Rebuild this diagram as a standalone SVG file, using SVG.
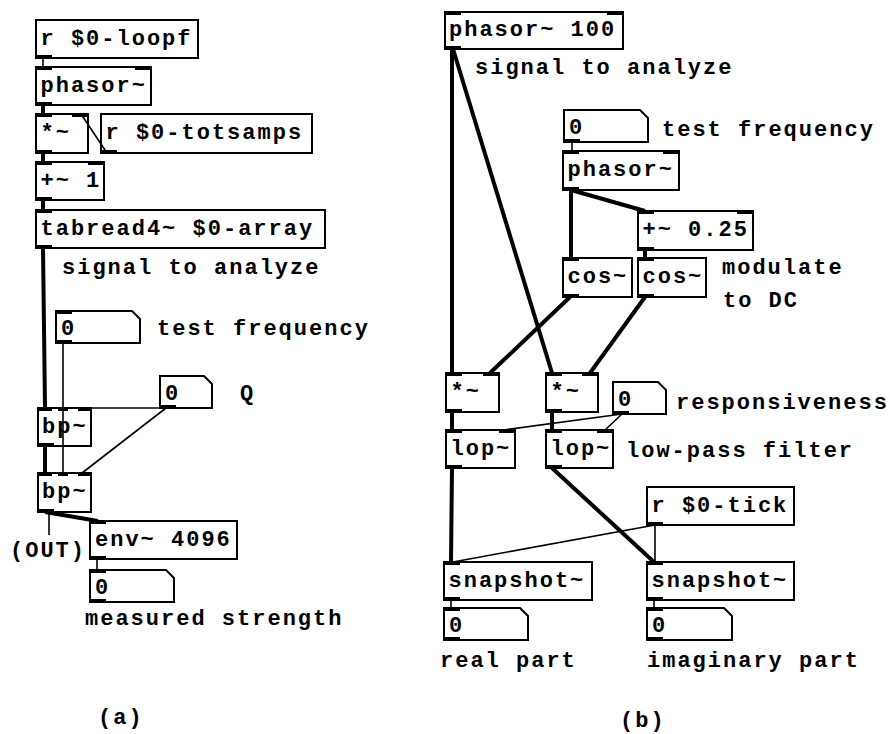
<svg xmlns="http://www.w3.org/2000/svg" width="890" height="734" viewBox="0 0 890 734">
<style>
.box{fill:#fff;stroke:#000;stroke-width:2}
.io{fill:#000}
.t{font-family:"Liberation Mono","DejaVu Sans Mono",monospace;font-weight:bold;font-size:22px;letter-spacing:2px;fill:#000}
.sig{stroke:#000;stroke-width:4;fill:none;stroke-linecap:butt}
.ctl{stroke:#000;stroke-width:1.6;fill:none}
</style>
<rect width="890" height="734" fill="#fff"/>
<g id="nodes">
<!-- left (a) -->
<g id="loopf"><rect class="box" x="36" y="20" width="162" height="38"/><rect class="io" x="36" y="55" width="16" height="4"/><text class="t" x="40.5" y="45">r $0-loopf</text></g>
<g id="phasorL"><rect class="box" x="36" y="67" width="115" height="38"/><rect class="io" x="36" y="66" width="16" height="4"/><rect class="io" x="135" y="66" width="16" height="4"/><rect class="io" x="36" y="102" width="16" height="4"/><text class="t" x="40.5" y="92">phasor~</text></g>
<g id="mulL"><rect class="box" x="36" y="114" width="52" height="39"/><rect class="io" x="36" y="113" width="16" height="4"/><rect class="io" x="72" y="113" width="16" height="4"/><rect class="io" x="36" y="150" width="16" height="4"/><text class="t" x="40.5" y="139">*~</text></g>
<g id="totsamps"><rect class="box" x="101" y="114" width="211" height="39"/><rect class="io" x="101" y="150" width="16" height="4"/><text class="t" x="105.5" y="139">r $0-totsamps</text></g>
<g id="add1"><rect class="box" x="36" y="162" width="68" height="38"/><rect class="io" x="36" y="161" width="16" height="4"/><rect class="io" x="88" y="161" width="16" height="4"/><rect class="io" x="36" y="197" width="16" height="4"/><text class="t" x="40.5" y="187">+~ 1</text></g>
<g id="tabread"><rect class="box" x="36" y="210" width="289" height="38"/><rect class="io" x="36" y="209" width="16" height="4"/><rect class="io" x="36" y="245" width="16" height="4"/><text class="t" x="40.5" y="235">tabread4~ $0-array</text></g>
<g id="freqL"><path class="box" d="M56 311H132L140 319V343H56Z"/><rect class="io" x="56" y="310" width="16" height="4"/><rect class="io" x="56" y="340" width="16" height="4"/><text class="t" x="61" y="335">0</text></g>
<g id="qnum"><path class="box" d="M160 376H204L212 384V408H160Z"/><rect class="io" x="160" y="405" width="16" height="4"/><text class="t" x="165" y="400">0</text></g>
<g id="bp1"><rect class="box" x="38" y="408" width="53" height="38"/><rect class="io" x="38" y="407" width="14" height="4"/><rect class="io" x="58" y="407" width="10" height="4"/><rect class="io" x="78" y="407" width="13" height="4"/><rect class="io" x="38" y="443" width="16" height="4"/><text class="t" x="42" y="433">bp~</text></g>
<g id="bp2"><rect class="box" x="38" y="473" width="53" height="39"/><rect class="io" x="38" y="472" width="14" height="4"/><rect class="io" x="58" y="472" width="10" height="4"/><rect class="io" x="78" y="472" width="13" height="4"/><rect class="io" x="38" y="509" width="16" height="4"/><text class="t" x="42" y="498">bp~</text></g>
<g id="env"><rect class="box" x="90" y="521" width="147" height="38"/><rect class="io" x="90" y="520" width="16" height="4"/><rect class="io" x="90" y="556" width="16" height="4"/><text class="t" x="95" y="546">env~ 4096</text></g>
<g id="measured"><path class="box" d="M90 570H166L174 578V602H90Z"/><rect class="io" x="90" y="569" width="16" height="4"/><rect class="io" x="90" y="599" width="16" height="4"/><text class="t" x="95" y="594">0</text></g>
<!-- right (b) -->
<g id="phasor100"><rect class="box" x="445" y="12" width="178" height="37"/><rect class="io" x="445" y="11" width="16" height="4"/><rect class="io" x="607" y="11" width="16" height="4"/><rect class="io" x="445" y="46" width="16" height="4"/><text class="t" x="449" y="36">phasor~ 100</text></g>
<g id="freqR"><path class="box" d="M564 110H640L648 118V142H564Z"/><rect class="io" x="564" y="139" width="16" height="4"/><text class="t" x="569" y="134">0</text></g>
<g id="phasorR"><rect class="box" x="563" y="151" width="116" height="39"/><rect class="io" x="563" y="150" width="16" height="4"/><rect class="io" x="663" y="150" width="16" height="4"/><rect class="io" x="563" y="187" width="16" height="4"/><text class="t" x="567.5" y="176">phasor~</text></g>
<g id="add025"><rect class="box" x="638" y="211" width="115" height="39"/><rect class="io" x="638" y="210" width="16" height="4"/><rect class="io" x="737" y="210" width="16" height="4"/><rect class="io" x="638" y="247" width="16" height="4"/><text class="t" x="642.5" y="236">+~ 0.25</text></g>
<g id="cos1"><rect class="box" x="563" y="258" width="69" height="39"/><rect class="io" x="563" y="257" width="16" height="4"/><rect class="io" x="563" y="294" width="16" height="4"/><text class="t" x="567.5" y="283">cos~</text></g>
<g id="cos2"><rect class="box" x="638" y="258" width="68" height="39"/><rect class="io" x="638" y="257" width="16" height="4"/><rect class="io" x="638" y="294" width="16" height="4"/><text class="t" x="642.5" y="283">cos~</text></g>
<g id="mul1"><rect class="box" x="446" y="373" width="53" height="39"/><rect class="io" x="446" y="372" width="16" height="4"/><rect class="io" x="483" y="372" width="16" height="4"/><rect class="io" x="446" y="409" width="16" height="4"/><text class="t" x="450.5" y="398">*~</text></g>
<g id="mul2"><rect class="box" x="546" y="373" width="52" height="39"/><rect class="io" x="546" y="372" width="16" height="4"/><rect class="io" x="582" y="372" width="16" height="4"/><rect class="io" x="546" y="409" width="16" height="4"/><text class="t" x="550.5" y="398">*~</text></g>
<g id="resp"><path class="box" d="M613 382H658L666 390V414H613Z"/><rect class="io" x="613" y="411" width="16" height="4"/><text class="t" x="618" y="406">0</text></g>
<g id="lop1"><rect class="box" x="446" y="430" width="69" height="38"/><rect class="io" x="446" y="429" width="16" height="4"/><rect class="io" x="499" y="429" width="16" height="4"/><rect class="io" x="446" y="465" width="16" height="4"/><text class="t" x="450.5" y="455">lop~</text></g>
<g id="lop2"><rect class="box" x="546" y="430" width="67" height="38"/><rect class="io" x="546" y="429" width="16" height="4"/><rect class="io" x="597" y="429" width="16" height="4"/><rect class="io" x="546" y="465" width="16" height="4"/><text class="t" x="550.5" y="455">lop~</text></g>
<g id="tick"><rect class="box" x="647" y="487" width="147" height="38"/><rect class="io" x="647" y="522" width="16" height="4"/><text class="t" x="651.5" y="512">r $0-tick</text></g>
<g id="snap1"><rect class="box" x="444" y="562" width="148" height="38"/><rect class="io" x="444" y="561" width="16" height="4"/><rect class="io" x="444" y="597" width="16" height="4"/><text class="t" x="448.5" y="587">snapshot~</text></g>
<g id="snap2"><rect class="box" x="647" y="562" width="147" height="38"/><rect class="io" x="647" y="561" width="16" height="4"/><rect class="io" x="647" y="597" width="16" height="4"/><text class="t" x="651.5" y="587">snapshot~</text></g>
<g id="real"><path class="box" d="M444 608H520L528 616V640H444Z"/><rect class="io" x="444" y="607" width="16" height="4"/><rect class="io" x="444" y="637" width="16" height="4"/><text class="t" x="449" y="632">0</text></g>
<g id="imag"><path class="box" d="M647 608H724L732 616V640H647Z"/><rect class="io" x="647" y="607" width="16" height="4"/><rect class="io" x="647" y="637" width="16" height="4"/><text class="t" x="652" y="632">0</text></g>
</g>
<g id="connectors">
<line class="ctl" x1="43" y1="58" x2="43" y2="67"/>
<line class="sig" x1="43" y1="105" x2="43" y2="114"/>
<line class="ctl" x1="107" y1="153" x2="81" y2="114"/>
<line class="sig" x1="43" y1="153" x2="43" y2="162"/>
<line class="sig" x1="43" y1="200" x2="43" y2="210"/>
<line class="sig" x1="43" y1="248" x2="45" y2="408"/>
<line class="ctl" x1="63" y1="343" x2="63" y2="473"/>
<line class="ctl" x1="166" y1="408" x2="85" y2="408"/>
<line class="ctl" x1="166" y1="408" x2="82" y2="473"/>
<line class="sig" x1="45" y1="446" x2="45" y2="473"/>
<line class="sig" x1="45" y1="512" x2="98" y2="521"/>
<line class="ctl" x1="49" y1="512" x2="49" y2="535"/>
<line class="ctl" x1="97" y1="559" x2="97" y2="570"/>
<line class="sig" x1="452" y1="49" x2="452" y2="373"/>
<line class="sig" x1="453" y1="49" x2="552" y2="373"/>
<line class="ctl" x1="572" y1="142" x2="572" y2="151"/>
<line class="sig" x1="571" y1="190" x2="571" y2="258"/>
<line class="sig" x1="571" y1="190" x2="645" y2="211"/>
<line class="sig" x1="645" y1="250" x2="645" y2="258"/>
<line class="sig" x1="570" y1="297" x2="490" y2="373"/>
<line class="sig" x1="645" y1="297" x2="590" y2="373"/>
<line class="sig" x1="452" y1="412" x2="452" y2="430"/>
<line class="sig" x1="552" y1="412" x2="552" y2="430"/>
<line class="ctl" x1="622" y1="414" x2="503" y2="430"/>
<line class="ctl" x1="622" y1="414" x2="605" y2="430"/>
<line class="sig" x1="452" y1="468" x2="451" y2="562"/>
<line class="sig" x1="552" y1="468" x2="654" y2="562"/>
<line class="ctl" x1="655" y1="525" x2="453" y2="562"/>
<line class="ctl" x1="655" y1="525" x2="655" y2="562"/>
<line class="ctl" x1="451" y1="600" x2="451" y2="608"/>
<line class="ctl" x1="654" y1="600" x2="654" y2="608"/>
</g>
<g id="labels">
<text class="t" x="62" y="274">signal to analyze</text>
<text class="t" x="157" y="335">test frequency</text>
<text class="t" x="240" y="400">Q</text>
<text class="t" x="10" y="557">(OUT)</text>
<text class="t" x="85" y="625">measured strength</text>
<text class="t" x="98" y="724">(a)</text>
<text class="t" x="475" y="74">signal to analyze</text>
<text class="t" x="662" y="136">test frequency</text>
<text class="t" x="722" y="274">modulate</text>
<text class="t" x="723" y="307">to DC</text>
<text class="t" x="676" y="409">responsiveness</text>
<text class="t" x="626" y="457">low-pass filter</text>
<text class="t" x="440" y="667">real part</text>
<text class="t" x="647" y="667">imaginary part</text>
<text class="t" x="620" y="727">(b)</text>
</g>
</svg>
